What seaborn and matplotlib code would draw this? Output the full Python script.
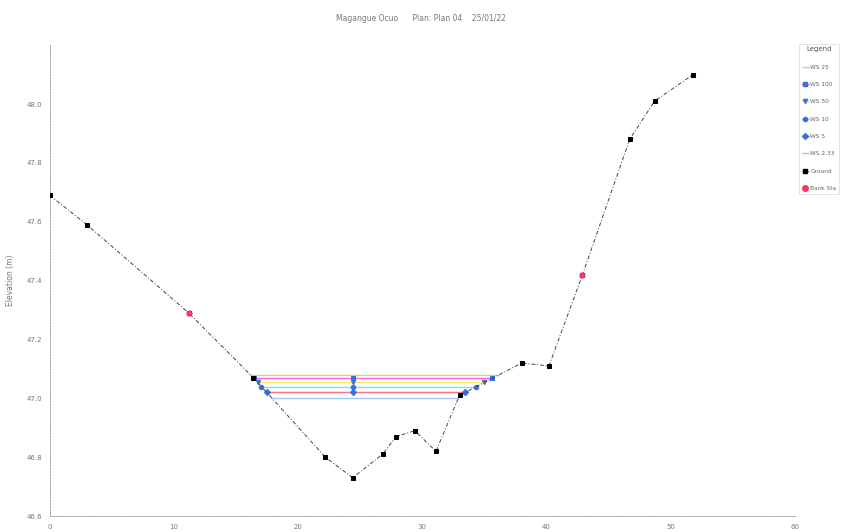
import numpy as np
import matplotlib
matplotlib.use("Agg")
import matplotlib.pyplot as plt
import seaborn as sns
from matplotlib.lines import Line2D

# ground profile
station = [0.0, 3.0, 11.2, 16.4, 22.2, 24.4, 26.8, 27.9, 29.4, 31.1, 33.0, 38.0, 40.2, 42.9, 46.7, 48.7, 51.8]
ground = [47.69, 47.59, 47.29, 47.07, 46.80, 46.73, 46.81, 46.87, 46.89, 46.82, 47.01, 47.12, 47.11, 47.42, 47.88, 48.01, 48.10]

bank_sta = [11.2, 42.9]
bank_elev = [47.29, 47.42]

ws_names = ["WS 25", "WS 100", "WS 50", "WS 10", "WS 5", "WS 2.33"]
ws_elev = [47.08, 47.068, 47.054, 47.04, 47.02, 47.00]
ws_colors = ["#b9e27c", "#ff5ee8", "#f0ef5a", "#6fe6f0", "#ff6f86", "#a3c8f2"]
ws_marks = [None, "s", "v", "o", "D", None]

title = "Magangue Ocuo      Plan: Plan 04    25/01/22"
x_ticks = [0, 10, 20, 30, 40, 50, 60]
y_ticks = [46.6, 46.8, 47.0, 47.2, 47.4, 47.6, 47.8, 48.0]


def wet_limits(level):
    """Left/right stations where a water level meets the ground."""
    st = np.array(station)
    g = np.array(ground)
    k = int(np.argmin(g))
    j = k
    while j > 0 and g[j - 1] < level:
        j -= 1
    left = np.interp(level, [g[j], g[j - 1]], [st[j], st[j - 1]])
    j = k
    while j < len(g) - 1 and g[j + 1] < level:
        j += 1
    right = np.interp(level, [g[j], g[j + 1]], [st[j], st[j + 1]])
    return left, right


sns.set_style("white")
plt.rcParams["font.family"] = ["DejaVu Sans"]

fig = plt.figure(figsize=(8.42, 5.32), dpi=100)
ax = fig.add_axes([0.059, 0.030, 0.885, 0.885])

thalweg = station[int(np.argmin(ground))]
handles = []
for name, lev, col, mk in zip(ws_names, ws_elev, ws_colors, ws_marks):
    lft, rgt = wet_limits(lev)
    xs = [lft, thalweg, rgt]
    sns.lineplot(x=xs, y=[lev] * 3, ax=ax, color=col, lw=1.0, sort=False,
                 marker=mk, markersize=3.2, markerfacecolor="#3a6fe0",
                 markeredgecolor="#3a6fe0", zorder=3)
    handles.append(Line2D([], [], color=col, lw=1.0, marker=mk, markersize=3,
                          markerfacecolor="#3a6fe0", markeredgecolor="#3a6fe0"))

sns.lineplot(x=station, y=ground, ax=ax, color="#444444", lw=0.7, sort=False,
             linestyle=(0, (4, 2, 1, 2)), marker="s", markersize=3.0,
             markerfacecolor="black", markeredgecolor="black", zorder=4)
handles.append(Line2D([], [], color="#444444", lw=0.7, linestyle=(0, (4, 2, 1, 2)),
                      marker="s", markersize=3, markerfacecolor="black",
                      markeredgecolor="black"))

sns.scatterplot(x=bank_sta, y=bank_elev, ax=ax, color="#ff3366", s=16,
                edgecolor="#ff3366", zorder=5)
handles.append(Line2D([], [], ls="none", marker="o", markersize=4,
                      color="#ff3366"))

ax.set_xlim(0, 60)
ax.set_ylim(46.6, 48.2)
ax.set_xticks(x_ticks)
ax.set_yticks(y_ticks)
ax.set_xticklabels([str(t) for t in x_ticks])
ax.set_yticklabels([f"{t:.1f}" for t in y_ticks])
ax.minorticks_on()
ax.tick_params(which="both", direction="out", colors="#888888", labelcolor="#777777",
               labelsize=5, length=2, width=0.6)
ax.tick_params(which="minor", length=1)
ax.set_ylabel("Elevation (m)", fontsize=5.5, color="#777777", labelpad=8)
ax.set_xlabel("")
for side in ["top", "right"]:
    ax.spines[side].set_visible(False)
for side in ["left", "bottom"]:
    ax.spines[side].set_color("#999999")
    ax.spines[side].set_linewidth(0.6)
    ax.spines[side].set_linestyle((0, (2, 1.5)))

fig.text(0.5, 0.965, title, ha="center", va="center", fontsize=5.5, color="#777777")

labels = ws_names + ["Ground", "Bank Sta"]
leg = fig.legend(handles, labels, loc="upper left", bbox_to_anchor=(0.949, 0.918),
                 fontsize=4.2, title="Legend", title_fontsize=5, frameon=True,
                 handlelength=1.2, handletextpad=0.25, borderpad=0.45,
                 labelspacing=2.1, borderaxespad=0)
leg.get_frame().set_edgecolor("#cccccc")
leg.get_frame().set_linewidth(0.5)
for t in leg.get_texts():
    t.set_color("#666666")
leg.get_title().set_color("#555555")

fig.savefig("out.png", dpi=100)
